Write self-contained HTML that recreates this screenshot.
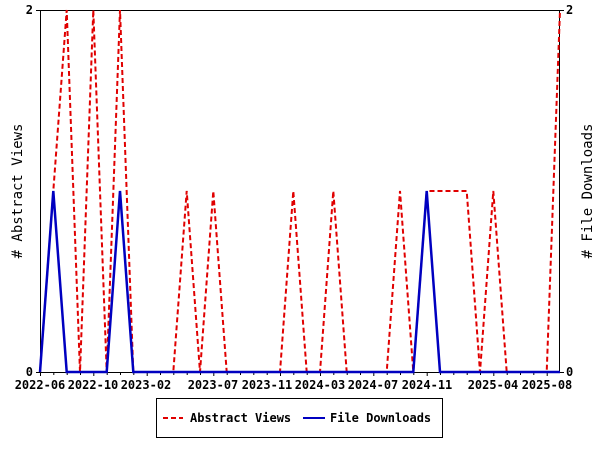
<!DOCTYPE html>
<html><head><style>body{margin:0;background:#fff}svg text{font-family:"DejaVu Sans Mono","Liberation Mono",monospace}</style></head>
<body>
<svg width="600" height="450" xmlns="http://www.w3.org/2000/svg">
<rect width="600" height="450" fill="#fff"/>
<g stroke="#000" stroke-width="1">
<line x1="40.5" y1="10" x2="40.5" y2="373"/>
<line x1="559.5" y1="10" x2="559.5" y2="373"/>
<line x1="40" y1="10.5" x2="560" y2="10.5"/>
<line x1="40" y1="372.5" x2="560" y2="372.5"/>
<line x1="36" y1="10.5" x2="40" y2="10.5"/><line x1="36" y1="372.5" x2="40" y2="372.5"/>
<line x1="560" y1="10.5" x2="564" y2="10.5"/><line x1="560" y1="372.5" x2="564" y2="372.5"/>
</g>
<g stroke="#000" stroke-width="1">
<path d="M40.5 372v4M53.8 372v3M67.2 372v3M80.5 372v3M93.8 372v4M107.2 372v3M120.5 372v3M133.8 372v3M147.2 372v4M160.5 372v3M173.8 372v3M187.2 372v3M200.5 372v3M213.8 372v4M227.2 372v3M240.5 372v3M253.8 372v3M267.2 372v3M280.5 372v4M293.8 372v3M307.2 372v3M320.5 372v4M333.8 372v3M347.2 372v3M360.5 372v3M373.8 372v4M387.2 372v3M400.5 372v3M413.8 372v3M427.2 372v4M440.5 372v3M453.8 372v3M467.2 372v3M480.5 372v3M493.8 372v4M507.2 372v3M520.5 372v3M533.8 372v3M547.2 372v4"/>
</g>
<g font-size="12" fill="#000" font-weight="bold">
<text x="33" y="14" text-anchor="end">2</text>
<text x="33" y="376" text-anchor="end">0</text>
<text x="566" y="14">2</text>
<text x="566" y="376">0</text>
<g text-anchor="middle">
<text x="40" y="389">2022-06</text>
<text x="93" y="389">2022-10</text>
<text x="146" y="389">2023-02</text>
<text x="213" y="389">2023-07</text>
<text x="267" y="389">2023-11</text>
<text x="320" y="389">2024-03</text>
<text x="373" y="389">2024-07</text>
<text x="427" y="389">2024-11</text>
<text x="493" y="389">2025-04</text>
<text x="547" y="389">2025-08</text>
</g>
</g>
<text x="0" y="0" font-size="14" transform="translate(22,191) rotate(-90)" text-anchor="middle"># Abstract Views</text>
<text x="0" y="0" font-size="14" transform="translate(592,191) rotate(-90)" text-anchor="middle"># File Downloads</text>
<polyline fill="none" stroke="#e00000" stroke-width="2" stroke-dasharray="5,3" points="40,372 53.3,191 66.7,10 80,372 93.3,10 106.7,372 120,10 133.3,372 146.7,372 160,372 173.3,372 186.7,191 200,372 213.3,191 226.7,372 240,372 253.3,372 266.7,372 280,372 293.3,191 306.7,372 320,372 333.3,191 346.7,372 360,372 373.3,372 386.7,372 400,191 413.3,372 426.7,191 440,191 453.3,191 466.7,191 480,372 493.3,191 506.7,372 520,372 533.3,372 546.7,372 560,10"/>
<polyline fill="none" stroke="#0000c0" stroke-width="2.5" points="40,372 53.3,191 66.7,372 106.7,372 120,191 133.3,372 413.3,372 426.7,191 440,372 560,372"/>
<rect x="156.5" y="398.5" width="286" height="39" fill="#fff" stroke="#000"/>
<line x1="163" y1="418" x2="183" y2="418" stroke="#e00000" stroke-width="2" stroke-dasharray="5,3"/>
<line x1="303" y1="418" x2="325" y2="418" stroke="#0000c0" stroke-width="2"/>
<g font-size="12" font-weight="bold"><text x="190" y="422">Abstract Views</text><text x="330" y="422">File Downloads</text></g>
</svg>
</body></html>
